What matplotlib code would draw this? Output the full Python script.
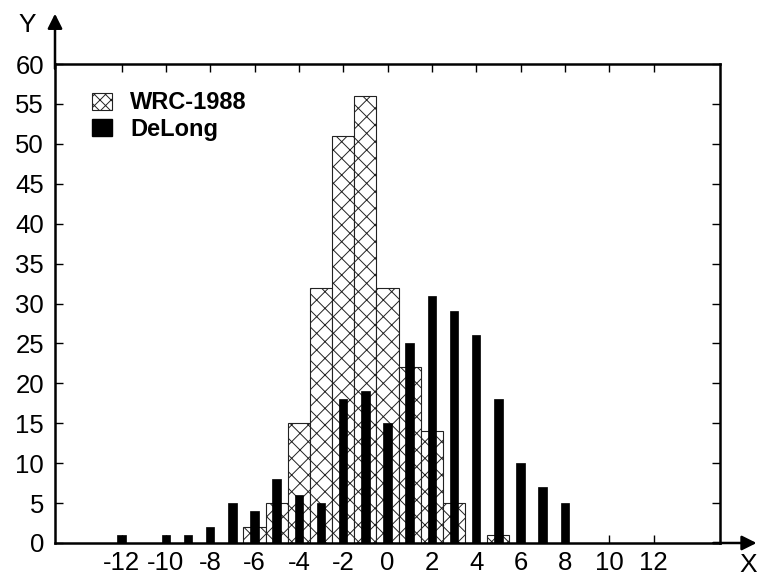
import matplotlib.pyplot as plt
from matplotlib.patches import Patch

plt.rcParams['font.family'] = ['Liberation Sans', 'DejaVu Sans']
plt.rcParams['hatch.linewidth'] = 0.7
plt.rcParams['hatch.color'] = '#333333'

# WRC-1988 histogram (integer bins, width 1)
wrc_x = [-6, -5, -4, -3, -2, -1, 0, 1, 2, 3, 4, 5]
wrc_y = [2, 5, 15, 32, 51, 56, 32, 22, 14, 5, 0, 1]

# DeLong counts
delong_x = [-12, -11, -10, -9, -8, -7, -6, -5, -4, -3, -2, -1, 0, 1, 2, 3, 4, 5, 6, 7, 8]
delong_y = [1, 0, 1, 1, 2, 5, 4, 8, 6, 5, 18, 19, 15, 25, 31, 29, 26, 18, 10, 7, 5]

x_ticks = [-12, -10, -8, -6, -4, -2, 0, 2, 4, 6, 8, 10, 12]
y_ticks = list(range(0, 61, 5))

fig = plt.figure(figsize=(7.57, 5.77), dpi=100)
ax = fig.add_axes([55 / 757, 34 / 577, 665 / 757, 479 / 577])

ax.bar(wrc_x, wrc_y, width=1.0, color='white', edgecolor='#222222',
       linewidth=0.8, hatch='xx', zorder=2)
ax.bar(delong_x, delong_y, width=0.38, color='black', edgecolor='black',
       linewidth=0.5, zorder=3)

ax.set_xlim(-15, 15)
ax.set_ylim(0, 60)
ax.set_xticks(x_ticks)
ax.set_xticklabels([str(v) for v in x_ticks])
ax.set_yticks(y_ticks)
ax.set_yticklabels([str(v) for v in y_ticks])
ax.tick_params(direction='in', length=6, width=1.0, labelsize=18.5,
               top=True, right=True, color='black')
ax.tick_params(axis='y', pad=8)
ax.tick_params(axis='x', pad=6)

for side in ['top', 'right', 'left', 'bottom']:
    ax.spines[side].set_linewidth(1.8)

# axis arrows
ax.annotate('', xy=(0, 1.105), xytext=(0, 0.99), xycoords='axes fraction',
            arrowprops=dict(arrowstyle='-|>', color='black', lw=1.8,
                            mutation_scale=22, shrinkA=0, shrinkB=0),
            annotation_clip=False)
ax.annotate('', xy=(1.055, 0), xytext=(0.99, 0), xycoords='axes fraction',
            arrowprops=dict(arrowstyle='-|>', color='black', lw=1.8,
                            mutation_scale=22, shrinkA=0, shrinkB=0),
            annotation_clip=False)
fig.text(27 / 757, 1 - 25 / 577, 'Y', fontsize=19, ha='center', va='center')
fig.text(748 / 757, 1 - 565 / 577, 'X', fontsize=19, ha='center', va='center')

handles = [Patch(facecolor='white', edgecolor='#222222', hatch='xxx', linewidth=0.8),
           Patch(facecolor='black', edgecolor='black')]
ax.legend(handles, ['WRC-1988', 'DeLong'], loc='upper left',
          bbox_to_anchor=(0.024, 0.987), frameon=False,
          prop={'weight': 'bold', 'size': 17}, handlelength=0.85,
          handleheight=0.75, handletextpad=0.75, labelspacing=0.15)

plt.savefig('out.png', dpi=100)
